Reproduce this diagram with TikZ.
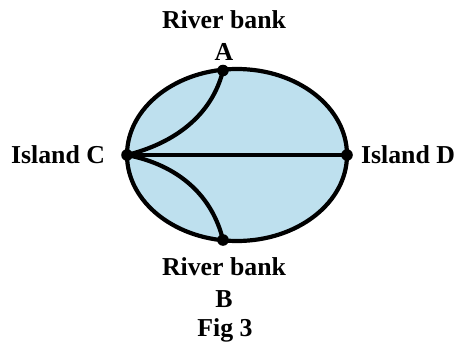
\documentclass[tikz,border=0pt]{standalone}
\usepackage{fontspec}
\setmainfont{Liberation Serif}
\usetikzlibrary{positioning}
\definecolor{lakeblue}{RGB}{190,224,238}

\begin{document}
\begin{tikzpicture}[x=0.5pt,y=-0.5pt,
  LandStyle/.style={shape=circle,fill=black,inner sep=0pt,minimum size=5.8pt},
  BridgeStyle/.style={line width=2.1pt},
  NameStyle/.style={font=\fontsize{12.9}{16}\selectfont\bfseries,align=center}]
  \useasboundingbox (0,0) rectangle (456,348);
  % the island outline
  \filldraw[fill=lakeblue,BridgeStyle] (237,155) ellipse [x radius=110,y radius=86];
  \node[LandStyle] (a) at (223,70.5) {};   % river bank A
  \node[LandStyle] (b) at (223,240) {};    % river bank B
  \node[LandStyle] (c) at (127,155) {};    % island C
  \node[LandStyle] (d) at (347,155) {};    % island D
  \draw[BridgeStyle] (c.center) -- (d.center);
  \draw[BridgeStyle] (c.center) .. controls (175,143) and (212,115) .. (a.center);
  \draw[BridgeStyle] (c.center) .. controls (178,165) and (212,195) .. (b.center);
  \node[NameStyle] (ta) at (224,36) {River bank\\A};
  \node[NameStyle] (tb) at (224,283) {River bank\\B};
  \node[NameStyle] (tc) at (58,155) {Island C};
  \node[NameStyle] (td) at (408,155) {Island D};
  \node[NameStyle] (fig) at (225,330) {Fig 3};
\end{tikzpicture}
\end{document}
